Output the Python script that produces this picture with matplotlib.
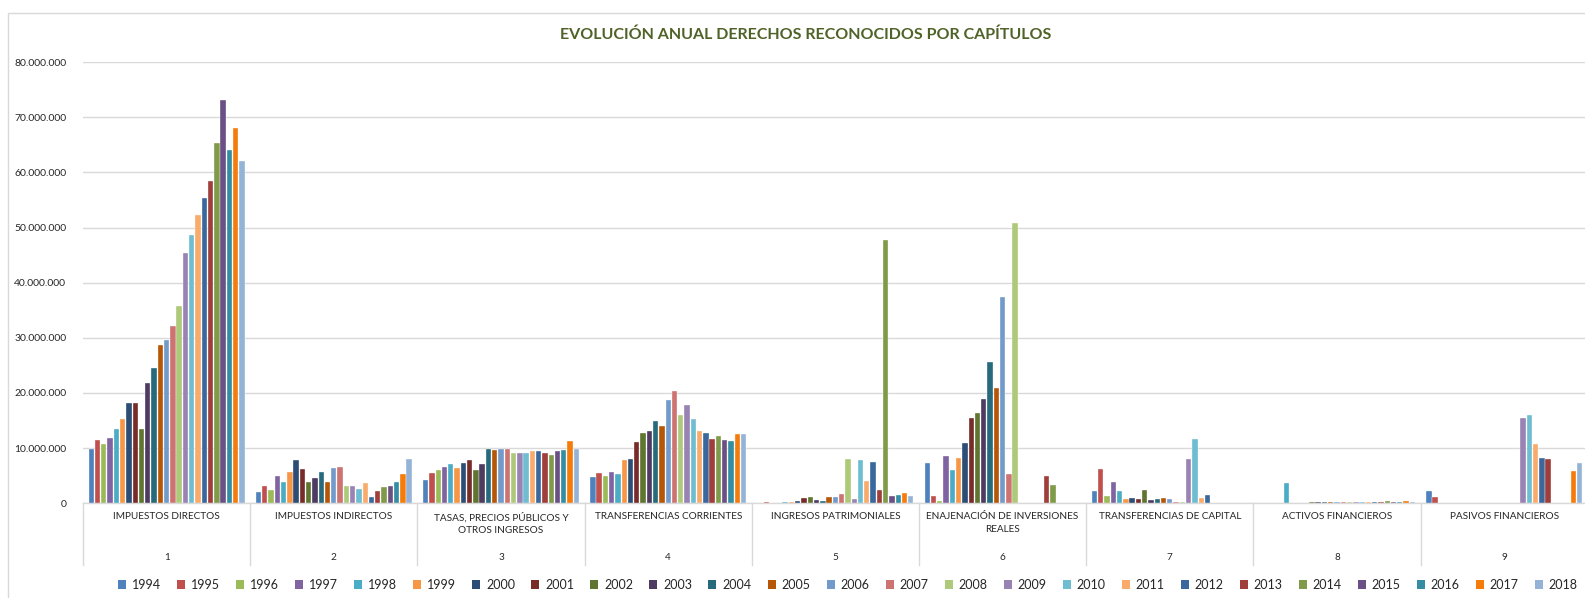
import numpy as np
import matplotlib
matplotlib.use("Agg")
import matplotlib.pyplot as plt
from matplotlib.patches import Patch, Rectangle
from matplotlib.lines import Line2D
from matplotlib.ticker import FuncFormatter
import matplotlib.transforms as mtransforms

plt.rcParams['font.family'] = ['Lato', 'DejaVu Sans']

# años (series)
years = list(range(1994, 2019))

# capítulos (categorías)
cap_nums = ['1', '2', '3', '4', '5', '6', '7', '8', '9']
cap_names = ['IMPUESTOS DIRECTOS', 'IMPUESTOS INDIRECTOS',
             'TASAS, PRECIOS PÚBLICOS Y\nOTROS INGRESOS', 'TRANSFERENCIAS CORRIENTES',
             'INGRESOS PATRIMONIALES', 'ENAJENACIÓN DE INVERSIONES\nREALES',
             'TRANSFERENCIAS DE CAPITAL', 'ACTIVOS FINANCIEROS', 'PASIVOS FINANCIEROS']

# derechos reconocidos (millones de euros), 1994..2018
cap1 = [9.9, 11.5, 10.8, 11.8, 13.5, 15.2, 18.1, 18.1, 13.5, 21.9, 24.5, 28.7, 29.7,
        32.1, 35.7, 45.4, 48.6, 52.2, 55.4, 58.5, 65.3, 73.1, 64.0, 68.0, 62.1]
cap2 = [2.1, 3.2, 2.4, 5.0, 3.9, 5.7, 7.9, 6.2, 3.9, 4.6, 5.7, 3.8, 6.4,
        6.5, 3.1, 3.1, 2.6, 3.6, 1.2, 2.3, 2.9, 3.2, 3.9, 5.4, 8.0]
cap3 = [4.2, 5.5, 6.0, 6.6, 7.1, 6.4, 7.3, 7.9, 6.1, 7.2, 9.8, 9.6, 9.9,
        9.9, 9.1, 9.2, 9.2, 9.5, 9.4, 9.2, 8.8, 9.5, 9.7, 11.3, 9.9]
cap4 = [4.8, 5.5, 5.0, 5.6, 5.3, 7.8, 8.1, 11.2, 12.8, 13.2, 15.0, 14.1, 18.7,
        20.3, 16.1, 17.8, 15.2, 13.2, 12.8, 11.6, 12.2, 11.5, 11.3, 12.5, 12.6]
cap5 = [0.1, 0.15, 0.1, 0.1, 0.15, 0.15, 0.4, 1.0, 1.2, 0.6, 0.4, 1.1, 1.2,
        1.7, 8.0, 0.7, 7.9, 4.0, 7.4, 2.4, 47.8, 1.4, 1.5, 1.9, 1.3]
cap6 = [7.3, 1.3, 0.4, 8.6, 6.0, 8.3, 10.9, 15.4, 16.3, 18.9, 25.7, 20.9, 37.4,
        5.4, 50.9, 0.0, 0.1, 0.0, 0.0, 4.9, 3.4, 0.0, 0.0, 0.0, 0.0]
cap7 = [2.3, 6.2, 1.3, 3.8, 2.3, 0.7, 0.9, 0.7, 2.4, 0.6, 0.7, 1.0, 0.7,
        0.2, 0.2, 8.1, 11.7, 0.9, 1.5, 0.0, 0.0, 0.1, 0.0, 0.1, 0.0]
cap8 = [0.0, 0.0, 0.05, 0.05, 3.7, 0.05, 0.05, 0.05, 0.2, 0.2, 0.2, 0.2, 0.2,
        0.2, 0.3, 0.3, 0.3, 0.3, 0.3, 0.3, 0.5, 0.3, 0.3, 0.4, 0.2]
cap9 = [2.2, 1.1, 0.0, 0.0, 0.0, 0.0, 0.0, 0.0, 0.0, 0.0, 0.0, 0.0, 0.0,
        0.0, 0.0, 15.5, 16.0, 10.7, 8.2, 8.1, 0.0, 0.0, 0.0, 5.9, 7.3]

colors = ['#4F81BD', '#C0504D', '#9BBB59', '#8064A2', '#4BACC6', '#F79646',
          '#2C4D75', '#772C2A', '#5F7530', '#4D3B62', '#276A7C', '#B65708',
          '#729ACA', '#CD7371', '#AFC97A', '#9983B5', '#6FBDD1', '#F9AB6B',
          '#3A679C', '#9F3E3A', '#7F9A48', '#6A5084', '#358DA3', '#F57C0A',
          '#95B3D7']

data = np.array([cap1, cap2, cap3, cap4, cap5, cap6, cap7, cap8, cap9]) * 1e6

W, H = 1585, 598
fig = plt.figure(figsize=(W / 100, H / 100), dpi=100)
ax = fig.add_axes([83 / W, 1 - 503.3 / H, 9 * 167.2 / W, (503.3 - 62.1) / H])

n = len(years)
bw = 6.28 / 167.2
grp = np.arange(len(cap_nums)) + 0.5
for j, y in enumerate(years):
    ax.bar(grp + (j - (n - 1) / 2) * bw, data[:, j], width=bw * 0.85, color=colors[j],
           edgecolor='white', linewidth=0.25, label=str(y), zorder=3)

ax.set_xlim(0, 9)
ax.set_ylim(0, 80e6)
ax.set_yticks(np.arange(0, 80e6 + 1, 10e6))
ax.yaxis.set_major_formatter(FuncFormatter(lambda v, p: f"{int(v):,}".replace(',', '.')))
ax.tick_params(axis='y', length=0, pad=12, labelsize=7.5, labelcolor='#262626')
ax.set_xticks([])
ax.grid(axis='y', color='#D9D9D9', linewidth=1, zorder=0)
for s in ['top', 'right', 'left']:
    ax.spines[s].set_visible(False)
ax.spines['bottom'].set_color('#D9D9D9')
ax.spines['bottom'].set_linewidth(1)

# etiquetas de categoría en dos niveles
tr = mtransforms.blended_transform_factory(ax.transData, fig.transFigure)
for i in range(len(cap_nums)):
    ax.text(i + 0.5, 1 - 512 / H, cap_names[i], transform=tr, ha='center', va='top',
            fontsize=7.2, color='#262626', linespacing=1.5)
    ax.text(i + 0.5, 1 - 557 / H, cap_nums[i], transform=tr, ha='center', va='center',
            fontsize=7.2, color='#262626')
for i in range(10):
    ax.add_line(Line2D([i, i], [1 - 503.3 / H, 1 - 565 / H], transform=tr,
                       color='#D9D9D9', linewidth=1, clip_on=False))

fig.text(806 / W, 1 - 34.5 / H, 'EVOLUCIÓN ANUAL DERECHOS RECONOCIDOS POR CAPÍTULOS',
         ha='center', va='center', fontsize=11.5, fontweight='bold', color='#4F6228')

handles = [Patch(facecolor=c, edgecolor='none') for c in colors]
fig.legend(handles, [str(y) for y in years], ncol=n, loc='center',
           bbox_to_anchor=(848 / W, 1 - 585 / H), frameon=False, fontsize=9,
           handlelength=0.64, handleheight=0.64, handletextpad=0.48,
           columnspacing=1.28, labelcolor='#262626')

fig.add_artist(Rectangle((8 / W, -0.1), 1.5, 1 - 13 / H + 0.1, transform=fig.transFigure,
                         fill=False, edgecolor='#D9D9D9', linewidth=1))

fig.savefig('out.png', dpi=100)
